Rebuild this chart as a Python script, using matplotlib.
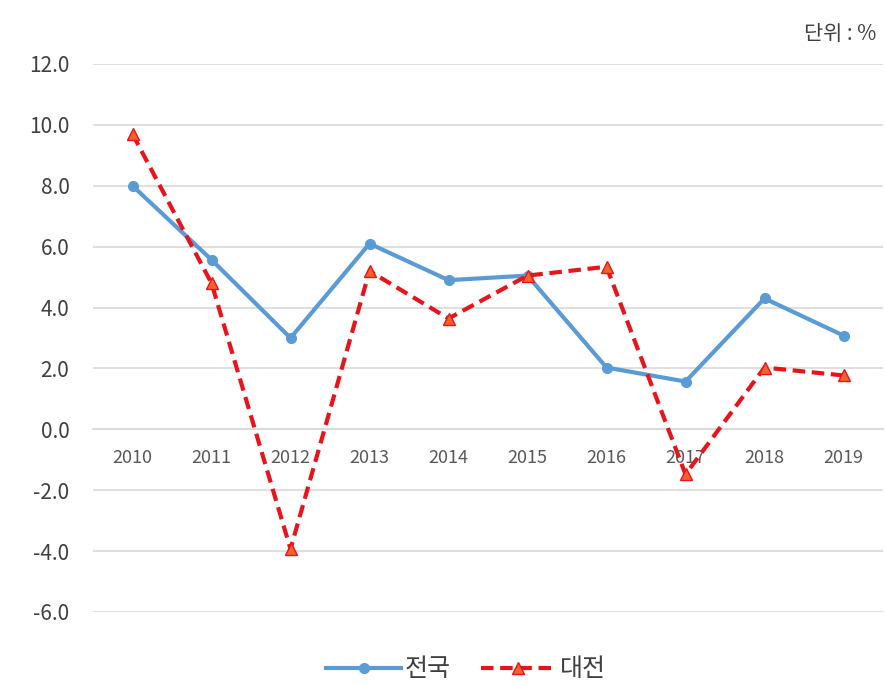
import matplotlib
matplotlib.use("Agg")
import matplotlib.pyplot as plt

plt.rcParams['font.family'] = ['Noto Sans CJK KR', 'DejaVu Sans']

# Data
years = ["2010", "2011", "2012", "2013", "2014", "2015", "2016", "2017", "2018", "2019"]
national = [8.0, 5.57, 3.0, 6.1, 4.9, 5.05, 2.03, 1.57, 4.3, 3.08]
daejeon = [9.7, 4.8, -3.93, 5.2, 3.64, 5.05, 5.34, -1.48, 2.03, 1.77]
y_ticks = [-6, -4, -2, 0, 2, 4, 6, 8, 10, 12]

fig = plt.figure(figsize=(8.85, 6.85), dpi=100)
ax = fig.add_axes([93 / 885, 73 / 685, 790 / 885, 548 / 685])

x = list(range(len(years)))
ax.plot(x, national, color="#5B9BD5", linewidth=3, marker="o", markersize=7,
        label="전국", zorder=3)
ax.plot(x, daejeon, color="#E8141C", linewidth=3, linestyle=(0, (3, 1.6)),
        marker="^", markersize=9, markerfacecolor="#F0642A",
        markeredgecolor="#E8141C", label="대전", zorder=4)

ax.set_xlim(-0.5, len(years) - 0.5)
ax.set_ylim(-6, 12)
ax.set_yticks(y_ticks)
ax.set_yticklabels([f"{v:.1f}" for v in y_ticks], fontsize=15, color="#404040")
ax.grid(axis="y", color="#D9D9D9", linewidth=1.2)
ax.set_axisbelow(True)

for side in ["top", "right", "left"]:
    ax.spines[side].set_visible(False)
ax.spines["bottom"].set_position(("data", 0))
ax.spines["bottom"].set_color("#D9D9D9")
ax.spines["bottom"].set_linewidth(1.2)
ax.set_xticks(x)
ax.set_xticklabels(years, fontsize=13, color="#595959")
ax.tick_params(axis="both", length=0)
ax.tick_params(axis="x", pad=14)
ax.tick_params(axis="y", pad=17)

fig.text(0.99, 0.951, "단위 : %", ha="right", va="center", fontsize=15, color="#404040")

leg = ax.legend(loc="upper center", bbox_to_anchor=(0.472, -0.04), ncol=2,
                frameon=False, fontsize=18, handlelength=3.0, columnspacing=1.2,
                handletextpad=0.15)
for t in leg.get_texts():
    t.set_color("#404040")

fig.savefig("out.png", dpi=100)
